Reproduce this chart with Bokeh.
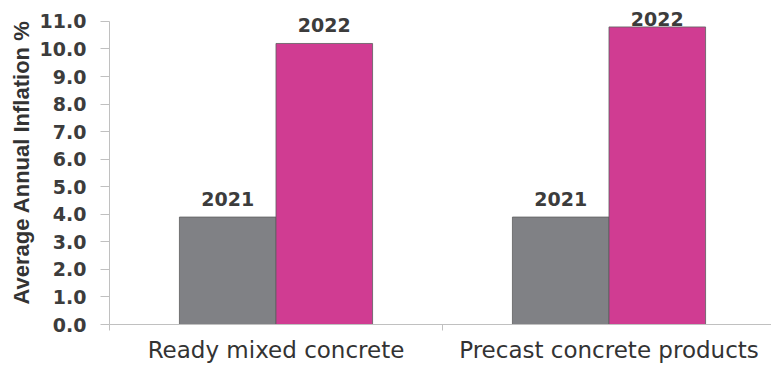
from bokeh.plotting import figure
from bokeh.models import ColumnDataSource, LabelSet, FixedTicker, Range1d, NumeralTickFormatter
from bokeh.core.properties import value
from bokeh.embed import file_html
from bokeh.resources import INLINE

categories = ["Ready mixed concrete", "Precast concrete products"]
years = ["2021", "2022"]
inflation_2021 = [3.9, 3.9]
inflation_2022 = [10.2, 10.8]
y_ticks = [0, 1, 2, 3, 4, 5, 6, 7, 8, 9, 10, 11]

colors = {"2021": "#808185", "2022": "#D03C92"}
bar_w = 0.29
label_ceiling = 10.45   # data labels are kept inside the chart area (as the source chart does)

centers = [i + 0.5 for i in range(len(categories))]

p = figure(width=771, height=365, output_backend="svg", toolbar_location=None,
           x_range=Range1d(0, 1.988), y_range=Range1d(0, 11.76),
           min_border_left=109, min_border_right=0, min_border_top=0, min_border_bottom=0)
p.outline_line_color = None
p.xgrid.grid_line_color = None
p.ygrid.grid_line_color = None
p.background_fill_color = "white"
p.border_fill_color = "white"

for k, (yr, vals) in enumerate([("2021", inflation_2021), ("2022", inflation_2022)]):
    sign = -1 if k == 0 else 1
    xs = [c + sign * bar_w / 2 for c in centers]
    src = ColumnDataSource(dict(x=xs, top=vals, ly=[min(v, label_ceiling) for v in vals],
                                lab=[yr] * len(vals)))
    p.vbar(x="x", top="top", bottom=0, width=bar_w, source=src,
           fill_color=colors[yr], line_color="#5e5e60", line_width=0.8)
    p.add_layout(LabelSet(x="x", y="ly", text="lab", source=src, y_offset=11,
                          text_align="center", text_baseline="alphabetic",
                          text_font=value("DejaVu Sans"), text_font_style="bold",
                          text_font_size="19px", text_color="#3c3c3c"))

# y axis
ya = p.yaxis[0]
ya.bounds = (0, 11)
ya.ticker = FixedTicker(ticks=y_ticks)
ya.formatter = NumeralTickFormatter(format="0.0")
ya.axis_line_color = "#c0c0c0"
ya.major_tick_line_color = "#c0c0c0"
ya.major_tick_out = 9
ya.major_tick_in = 0
ya.minor_tick_line_color = None
ya.major_label_standoff = 14
ya.major_label_text_font = "DejaVu Sans"
ya.major_label_text_font_style = "bold"
ya.major_label_text_font_size = "19px"
ya.major_label_text_color = "#3c3c3c"
ya.axis_label = "Average Annual Inflation %"
ya.axis_label_text_font = "Liberation Sans"
ya.axis_label_text_font_style = "bold"
ya.axis_label_text_font_size = "22px"
ya.axis_label_text_color = "#333333"
ya.axis_label_standoff = 3

# x axis
xa = p.xaxis[0]
xa.ticker = FixedTicker(ticks=centers, minor_ticks=[0, 1, 2])
xa.major_label_overrides = {c: name for c, name in zip(centers, categories)}
xa.axis_line_color = "#c0c0c0"
xa.major_tick_line_color = None
xa.major_tick_out = 0
xa.major_tick_in = 0
xa.minor_tick_line_color = "#c0c0c0"
xa.minor_tick_out = 6
xa.minor_tick_in = 0
xa.major_label_standoff = 6
xa.major_label_text_font = "DejaVu Sans"
xa.major_label_text_font_size = "23px"
xa.major_label_text_color = "#333333"

open("out.html", "w").write(file_html(p, INLINE))
